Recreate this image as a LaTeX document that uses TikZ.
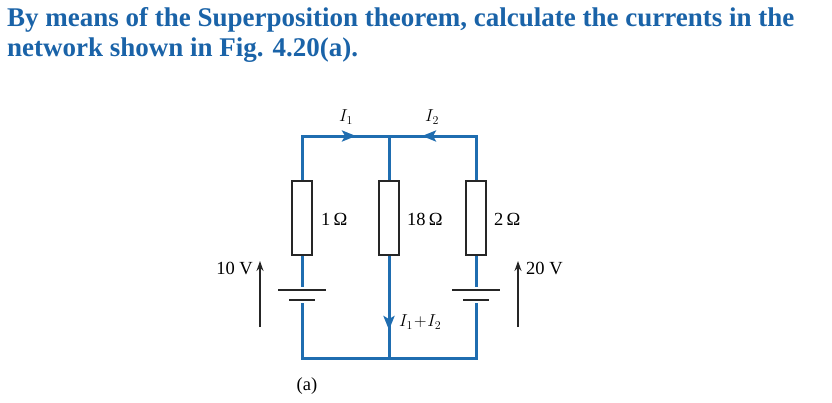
\documentclass[tikz,border=0pt]{standalone}
\usepackage{fontspec}
\setmainfont{Liberation Serif}
\usetikzlibrary{arrows.meta,decorations.markings}
\definecolor{wireblue}{HTML}{1F6DB0}
\definecolor{titleblue}{HTML}{1A63A8}
\begin{document}
\begin{tikzpicture}[x=1pt,y=-1pt,
  wire/.style={wireblue,line width=3pt},
  res/.style={draw=black!85,line width=2.6pt,fill=white,minimum width=20pt,minimum height=74pt,inner sep=0pt},
  plate/.style={black!85,line width=2.6pt},
  lbl/.style={font=\fontsize{18.5}{21}\selectfont,inner sep=1pt},
  varrow/.style={black!85,line width=1.3pt,-{Stealth[length=10pt,width=7pt]}},
  carrow/.style={wireblue,-{Stealth[length=14pt,width=11pt,inset=3pt]},line width=3pt}]
\useasboundingbox (0,0) rectangle (832,402);
\node[anchor=north west,align=left,text=titleblue,inner sep=0pt,font=\fontsize{27}{30}\selectfont\bfseries] (title) at (7,7)
 {By means of the Superposition theorem, calculate the currents in the\\network shown in Fig. 4.20(a).};
\coordinate (TL) at (302,136); \coordinate (TM) at (389,136); \coordinate (TR) at (476,136);
\coordinate (BL) at (302,358); \coordinate (BM) at (389,358); \coordinate (BR) at (476,358);
\draw[wire] (TL) -- (TR) -- (BR) -- (BL) -- cycle;
\draw[wire] (TM) -- (BM);
\draw[carrow] (TL) -- (356,136);
\draw[carrow] (TR) -- (422,136);
\draw[carrow] (389,300) -- (389,330);
\node[res] (R1) at (302,218) {};
\node[res] (R2) at (389,218) {};
\node[res] (R3) at (476,218) {};
% batteries
\fill[white] (290,287) rectangle (314,303);
\fill[white] (464,287) rectangle (488,303);
\draw[plate] (278,290) -- (326,290); \draw[plate] (289,300) -- (315,300);
\draw[plate] (452,290) -- (500,290); \draw[plate] (463,300) -- (489,300);
\coordinate (VL1) at (260,327); \coordinate (VL2) at (260,261);
\coordinate (VR1) at (518,327); \coordinate (VR2) at (518,261);
\draw[varrow] (VL1) -- (VL2);
\draw[varrow] (VR1) -- (VR2);
\node[lbl] (i1) at (346,117) {$I_1$};
\node[lbl] (i2) at (432,117) {$I_2$};
\node[lbl,anchor=west] (r1) at (320,219) {1\,Ω};
\node[lbl,anchor=west] (r2) at (406,219) {18\,Ω};
\node[lbl,anchor=west] (r3) at (493,219) {2\,Ω};
\node[lbl,anchor=east] (v1) at (254,268) {10 V};
\node[lbl,anchor=west] (v2) at (525,268) {20 V};
\node[lbl,anchor=west] (i12) at (398,322) {$I_1\!+\!I_2$};
\node[lbl] (a) at (307,386) {(a)};
\end{tikzpicture}
\end{document}
